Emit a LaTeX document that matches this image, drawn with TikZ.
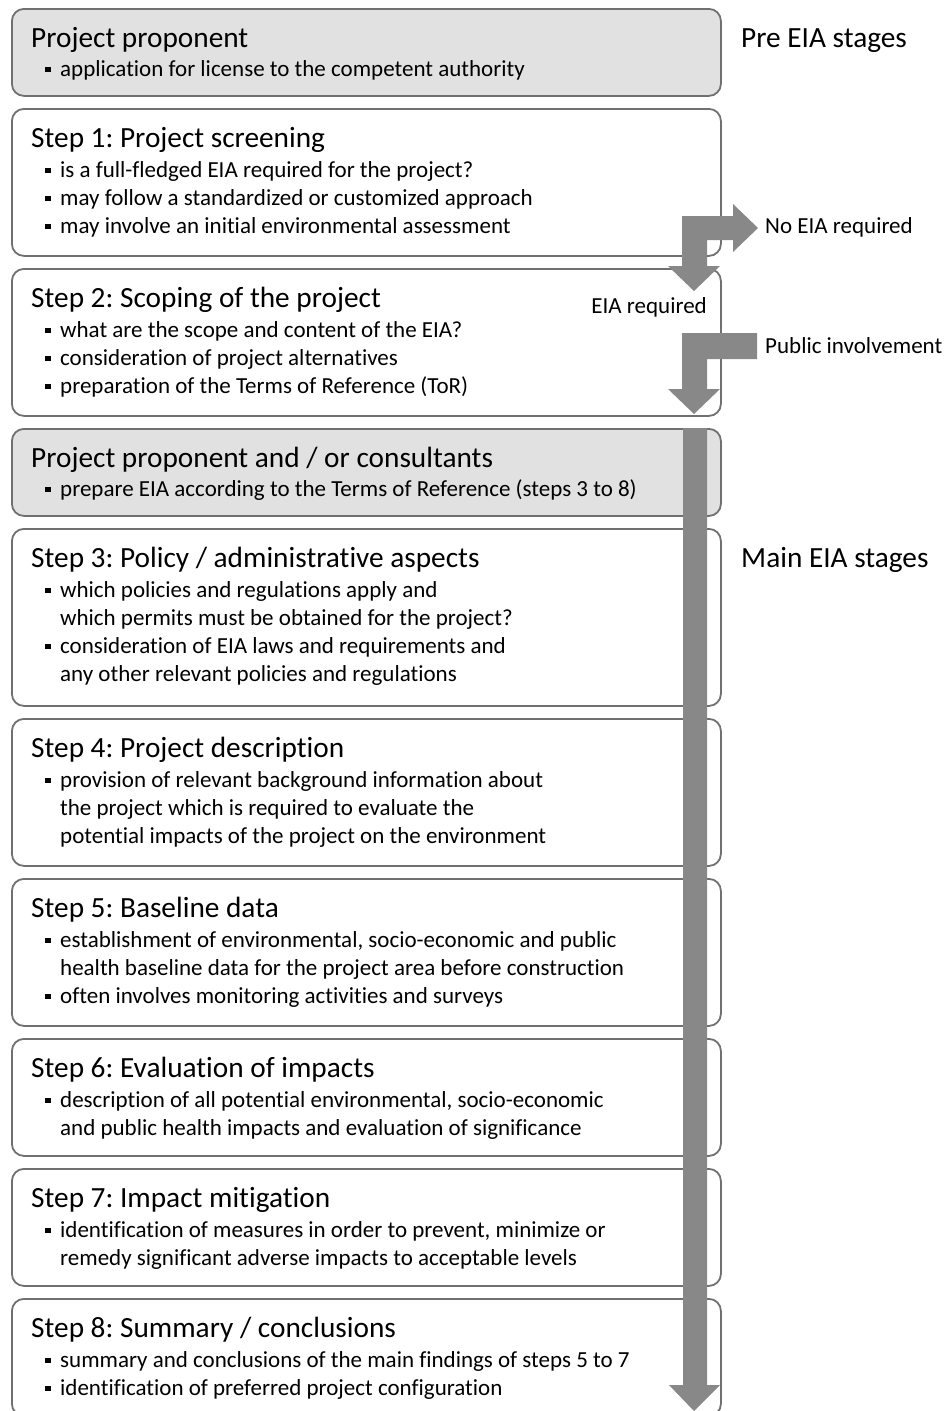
\documentclass[tikz,border=0pt]{standalone}
\usepackage{fontspec}
\setmainfont[Ligatures={NoCommon}]{Carlito}
\frenchspacing
\definecolor{edge}{RGB}{112,112,112}
\definecolor{panel}{RGB}{225,225,225}
\definecolor{flow}{RGB}{136,136,136}
% title line, bullet line and continuation line of a stage box
\newcommand\Ttl[3]{\node[ttl] (#1) at (31,#2) {#3};}
\newcommand\Bul[3]{\fill (45,#2-9.5) rectangle (50.5,#2-4); \node[itm] (#1) at (60,#2) {#3};}
\newcommand\Cnt[3]{\node[itm] (#1) at (60,#2) {#3};}
\begin{document}
\begin{tikzpicture}[x=1pt,y=-1pt,
  stagebox/.style={draw=edge, line width=1.8pt, rounded corners=12pt, fill=white,
    minimum width=709pt, inner sep=0pt, anchor=north west},
  shadedbox/.style={stagebox, fill=panel},
  ttl/.style={anchor=base west, inner sep=0pt, font=\fontsize{29.3}{35}\selectfont},
  itm/.style={anchor=base west, inner sep=0pt, font=\fontsize{23}{28}\selectfont},
  flowarrow/.style={fill=flow}]
\useasboundingbox (0,0) rectangle (945,1411);
\clip (0,0) rectangle (945,1411);

% stage boxes
\node[shadedbox, minimum height=87pt]  (b0) at (11,8) {};
\node[stagebox,  minimum height=147pt] (b1) at (11,108) {};
\node[stagebox,  minimum height=147pt] (b2) at (11,268) {};
\node[shadedbox, minimum height=87pt]  (b3) at (11,428) {};
\node[stagebox,  minimum height=177pt] (b4) at (11,528) {};
\node[stagebox,  minimum height=147pt] (b5) at (11,718) {};
\node[stagebox,  minimum height=147pt] (b6) at (11,878) {};
\node[stagebox,  minimum height=117pt] (b7) at (11,1038) {};
\node[stagebox,  minimum height=117pt] (b8) at (11,1168) {};
\node[stagebox,  minimum height=117pt] (b9) at (11,1298) {};

% box texts
\Ttl{t0}{47}{Project proponent}
\Bul{l0a}{76}{application for license to the competent authority}

\Ttl{t1}{147}{Step 1: Project screening}
\Bul{l1a}{177}{is a full-fledged EIA required for the project?}
\Bul{l1b}{205}{may follow a standardized or customized approach}
\Bul{l1c}{233}{may involve an initial environmental assessment}

\Ttl{t2}{307}{Step 2: Scoping of the project}
\Bul{l2a}{337}{what are the scope and content of the EIA?}
\Bul{l2b}{365}{consideration of project alternatives}
\Bul{l2c}{393}{preparation of the Terms of Reference (ToR)}

\Ttl{t3}{467}{Project proponent and / or consultants}
\Bul{l3a}{496}{prepare EIA according to the Terms of Reference (steps 3 to 8)}

\Ttl{t4}{567}{Step 3: Policy / administrative aspects}
\Bul{l4a}{597}{which policies and regulations apply and}
\Cnt{l4b}{625}{which permits must be obtained for the project?}
\Bul{l4c}{653}{consideration of EIA laws and requirements and}
\Cnt{l4d}{681}{any other relevant policies and regulations}

\Ttl{t5}{757}{Step 4: Project description}
\Bul{l5a}{787}{provision of relevant background information about}
\Cnt{l5b}{815}{the project which is required to evaluate the}
\Cnt{l5c}{843}{potential impacts of the project on the environment}

\Ttl{t6}{917}{Step 5: Baseline data}
\Bul{l6a}{947}{establishment of environmental, socio-economic and public}
\Cnt{l6b}{975}{health baseline data for the project area before construction}
\Bul{l6c}{1003}{often involves monitoring activities and surveys}

\Ttl{t7}{1077}{Step 6: Evaluation of impacts}
\Bul{l7a}{1107}{description of all potential environmental, socio-economic}
\Cnt{l7b}{1135}{and public health impacts and evaluation of significance}

\Ttl{t8}{1207}{Step 7: Impact mitigation}
\Bul{l8a}{1237}{identification of measures in order to prevent, minimize or}
\Cnt{l8b}{1265}{remedy significant adverse impacts to acceptable levels}

\Ttl{t9}{1337}{Step 8: Summary / conclusions}
\Bul{l9a}{1367}{summary and conclusions of the main findings of steps 5 to 7}
\Bul{l9b}{1395}{identification of preferred project configuration}

% stage labels on the right
\node[ttl] (pre)  at (741,47)  {Pre EIA stages};
\node[ttl] (main) at (741,567) {Main EIA stages};

% screening decision: branch to the right and down
\fill[flowarrow] (682,216) -- (733,216) -- (733,204) -- (758,228) -- (733,252)
  -- (733,240) -- (707,240) -- (707,266) -- (720,266) -- (694,291) -- (668,266)
  -- (682,266) -- cycle;
\node[itm] (noeia) at (765,233) {No EIA required};
\node[itm, anchor=base east] (eia) at (707,313) {EIA required};

% public involvement feeding into scoping
\fill[flowarrow] (757,333) -- (757,359) -- (707,359) -- (707,389) -- (720,389)
  -- (694,414) -- (668,389) -- (682,389) -- (682,333) -- cycle;
\node[itm] (pub) at (765,353) {Public involvement};

% main EIA flow through steps 3 to 8
\fill[flowarrow] (683,428) -- (707,428) -- (707,1385) -- (720,1385) -- (694,1411)
  -- (669,1385) -- (683,1385) -- cycle;
\end{tikzpicture}
\end{document}
